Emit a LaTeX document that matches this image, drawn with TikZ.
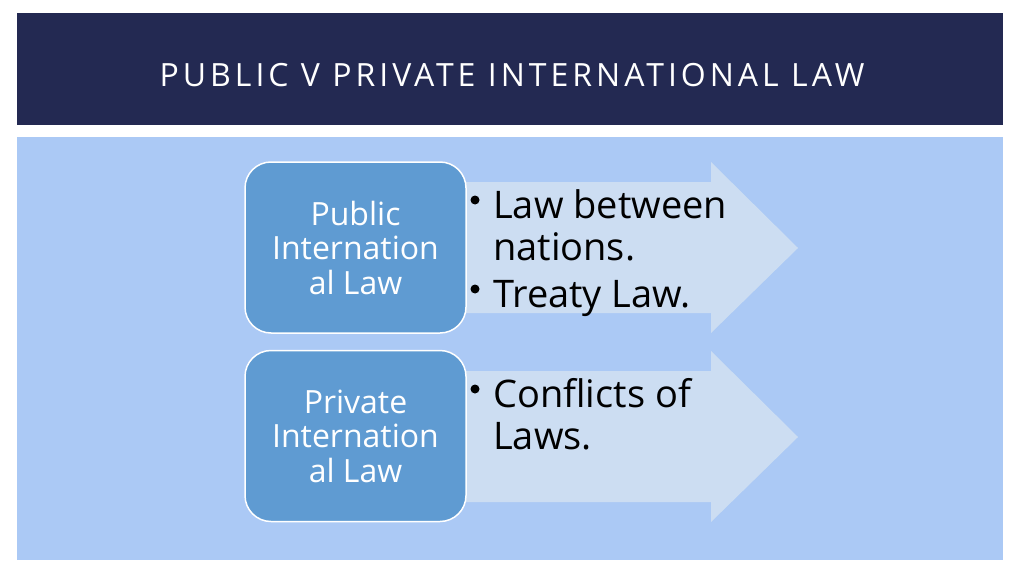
\documentclass[tikz,border=0pt]{standalone}
\usepackage{fontspec}
\setmainfont{Open Sans}
\newfontfamily\titlefont[LetterSpace=12.5]{Open Sans}
\definecolor{banner}{HTML}{232952}
\definecolor{panel}{HTML}{ABC9F5}
\definecolor{boxfill}{HTML}{5F9BD2}
\definecolor{arrowfill}{HTML}{CCDDF2}
\begin{document}
\begin{tikzpicture}[x=1pt,y=-1pt,
  catbox/.style={draw=white,line width=1.5pt,fill=boxfill,rounded corners=26pt,
    minimum width=221pt,minimum height=171pt,inner sep=0pt,text=white,align=center,
    font=\fontsize{32}{34.5}\selectfont},
  bullettext/.style={anchor=base west,inner sep=0pt,text=black,
    font=\fontsize{38}{42}\selectfont},
  dot/.style={circle,fill=black,inner sep=0pt,minimum size=9pt},
  arrowshape/.style={fill=arrowfill,draw=none}]
\useasboundingbox (0,0) rectangle (1024,575);
\fill[white] (0,0) rectangle (1024,575);
\fill[banner] (17,13) rectangle (1003,125);
\fill[panel] (17,137) rectangle (1003,560);
\node[text=white,font=\titlefont\fontsize{32}{38}\selectfont,inner sep=0pt] (title) at (512,75) {PUBLIC V PRIVATE INTERNATIONAL LAW};
% arrows
\fill[arrowshape] (440,182) -- (711,182) -- (711,162) -- (798,248) -- (711,333) -- (711,313) -- (440,313) -- cycle;
\fill[arrowshape] (440,371) -- (711,371) -- (711,351) -- (798,437) -- (711,522) -- (711,502) -- (440,502) -- cycle;
% boxes
\node[catbox] (pub) at (355.5,247.5) {Public\\Internation\\al Law};
\node[catbox] (priv) at (355.5,436) {Private\\Internation\\al Law};
% bullets
\node[dot] (d1) at (475,200) {};
\node[bullettext] (t1a) at (493,218) {Law between};
\node[bullettext] (t1b) at (493,260) {nations.};
\node[dot] (d2) at (475,289) {};
\node[bullettext] (t2) at (493,307) {Treaty Law.};
\node[dot] (d3) at (475,389) {};
\node[bullettext] (t3a) at (493,407) {Conflicts of};
\node[bullettext] (t3b) at (493,449) {Laws.};
\end{tikzpicture}
\end{document}
